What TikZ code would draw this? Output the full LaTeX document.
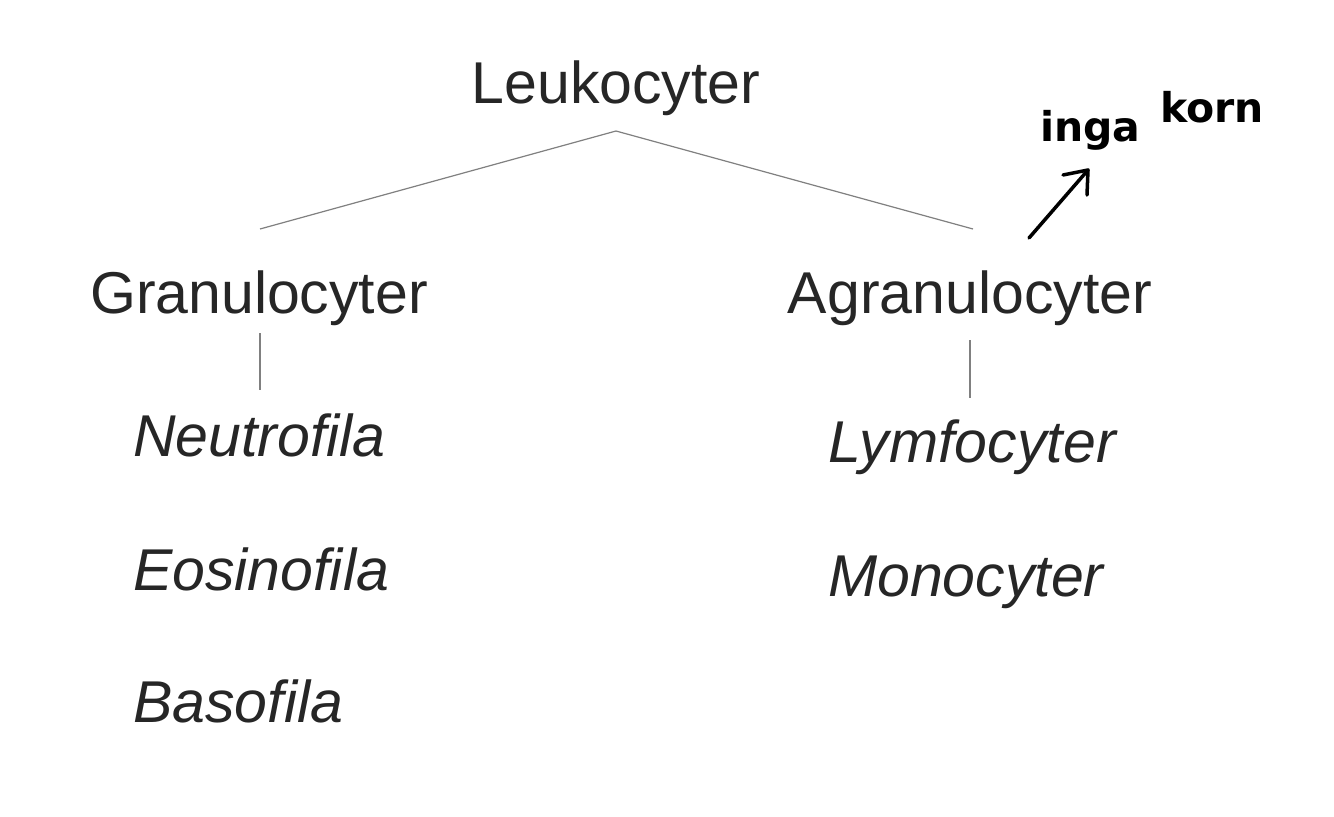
\documentclass[tikz,border=0pt]{standalone}
\usepackage{fontspec}
\setmainfont{Liberation Sans}
\newfontfamily\handfont{DejaVu Sans}
\usetikzlibrary{arrows.meta}
\definecolor{txt}{HTML}{262626}
\definecolor{ln}{HTML}{808080}
\begin{document}
\begin{tikzpicture}[x=1pt,y=-1pt,
  lbl/.style={inner sep=0pt,text=txt,font=\fontsize{59}{59}\selectfont},
  ilbl/.style={lbl,font=\fontsize{59}{59}\selectfont\itshape,anchor=base west},
  conn/.style={draw=ln,line width=1.2pt},
  hand/.style={inner sep=0pt,text=black,anchor=base west,font=\handfont\bfseries\fontsize{41}{41}\selectfont}]
\useasboundingbox[fill=white] (0,0) rectangle (1334,817);
\node[lbl,anchor=base] (leu) at (616,103) {Leukocyter};
\node[lbl,anchor=base] (gra) at (259,313) {Granulocyter};
\node[lbl,anchor=base] (agr) at (970,313) {Agranulocyter};
\node[ilbl] (neu) at (133,456) {Neutrofila};
\node[ilbl] (eos) at (133,590) {Eosinofila};
\node[ilbl] (bas) at (133,722) {Basofila};
\node[ilbl] (lym) at (828,462) {Lymfocyter};
\node[ilbl] (mon) at (828,596) {Monocyter};
\coordinate (top) at (616,131);
\coordinate (gtop) at (260,229);
\coordinate (atop) at (973,229);
\coordinate (gbot) at (260,333);
\coordinate (gend) at (260,390);
\coordinate (abot) at (970,340);
\coordinate (aend) at (970,398);
\draw[conn] (gtop) -- (top) -- (atop);
\draw[conn] (gbot) -- (gend);
\draw[conn] (abot) -- (aend);
\node[hand] (inga) at (1040,141) {inga};
\node[hand] (korn) at (1160,122) {korn};
\coordinate (arrS) at (1029,238);
\coordinate (arrE) at (1088,170);
\coordinate (arrL) at (1063,175);
\coordinate (arrR) at (1087,195);
\draw[line width=3.5pt,line cap=round,line join=round] (arrS) -- (arrE);
\draw[line width=3.5pt,line cap=round,line join=round] (arrL) -- (arrE) -- (arrR);
\end{tikzpicture}
\end{document}
